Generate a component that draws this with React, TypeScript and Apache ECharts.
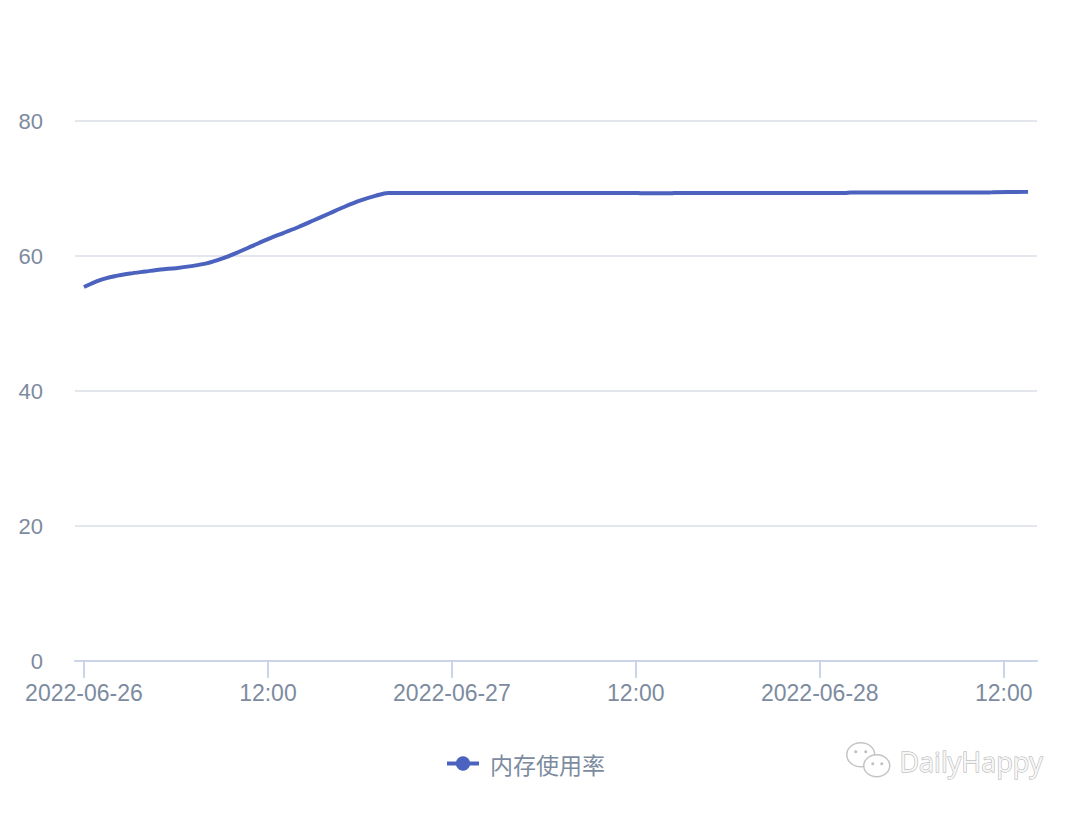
import React, { useEffect, useRef } from "react";
import * as echarts from "echarts";

const seriesName = "内存使用率";
const times: string[] = [
  "2022-06-26 00:00", "2022-06-26 01:00", "2022-06-26 02:00", "2022-06-26 03:00",
  "2022-06-26 04:00", "2022-06-26 05:00", "2022-06-26 06:00", "2022-06-26 07:00",
  "2022-06-26 08:00", "2022-06-26 09:00", "2022-06-26 10:00", "2022-06-26 11:00",
  "2022-06-26 12:00", "2022-06-26 13:00", "2022-06-26 14:00", "2022-06-26 15:00",
  "2022-06-26 16:00", "2022-06-26 17:00", "2022-06-26 18:00", "2022-06-26 19:00",
  "2022-06-26 19:50", "2022-06-27 00:00", "2022-06-27 06:00", "2022-06-27 12:00",
  "2022-06-27 12:20", "2022-06-27 14:20", "2022-06-27 14:40", "2022-06-27 20:00",
  "2022-06-28 01:40", "2022-06-28 02:00", "2022-06-28 08:00", "2022-06-28 11:00",
  "2022-06-28 11:20", "2022-06-28 13:35",
];
const values: number[] = [
  55.4, 56.4, 57.0, 57.4,
  57.7, 58.0, 58.2, 58.5,
  58.9, 59.6, 60.5, 61.5,
  62.5, 63.4, 64.3, 65.3,
  66.3, 67.3, 68.2, 68.9,
  69.35, 69.35, 69.35, 69.35,
  69.3, 69.3, 69.35, 69.35,
  69.35, 69.4, 69.4, 69.4,
  69.45, 69.5,
];
const axisMin = "2022-06-25 23:25";
const axisMax = "2022-06-28 14:10";
const yMax = 80;
const yInterval = 20;

const labelColor = "#7D8BA0";
const lineColor = "#4B62BF";

function parseTime(s: string): number {
  const [d, t] = s.split(" ");
  const [y, m, day] = d.split("-").map(Number);
  const [hh, mm] = t.split(":").map(Number);
  return new Date(y, m - 1, day, hh, mm).getTime();
}

const pad = (n: number) => (n < 10 ? "0" + n : "" + n);

export default function App() {
  const ref = useRef<HTMLDivElement>(null);
  useEffect(() => {
    if (!ref.current) return;
    const chart = echarts.init(ref.current, undefined, { renderer: "svg" });
    const data = times.map((t, i) => [parseTime(t), values[i]]);
    chart.setOption({
      animation: false,
      grid: { left: 75, right: 43, top: 121, bottom: 152 },
      legend: {
        bottom: 33,
        left: 440,
        itemWidth: 32,
        itemHeight: 18,
        lineStyle: { width: 4 },
        textStyle: {
          color: labelColor,
          fontSize: 23,
          fontFamily: "'Noto Sans CJK SC', sans-serif",
          padding: [0, 0, 0, 6],
        },
        data: [seriesName],
      },
      xAxis: {
        type: "time",
        min: parseTime(axisMin),
        max: parseTime(axisMax),
        splitNumber: 5,
        axisLine: { lineStyle: { color: "#CBD4E8", width: 2 } },
        axisTick: { show: true, length: 17, lineStyle: { color: "#CBD4E8", width: 2 } },
        splitLine: { show: false },
        axisLabel: {
          color: labelColor,
          fontSize: 23,
          fontFamily: "'Liberation Sans', sans-serif",
          margin: 20,
          hideOverlap: false,
          formatter: (v: number) => {
            const d = new Date(v);
            if (d.getHours() === 0 && d.getMinutes() === 0) {
              return d.getFullYear() + "-" + pad(d.getMonth() + 1) + "-" + pad(d.getDate());
            }
            return pad(d.getHours()) + ":" + pad(d.getMinutes());
          },
        },
      },
      yAxis: {
        type: "value",
        min: 0,
        max: yMax,
        interval: yInterval,
        axisLine: { show: false },
        axisTick: { show: false },
        splitLine: { lineStyle: { color: "#E3E6EC", width: 2 } },
        axisLabel: {
          color: labelColor,
          fontSize: 22,
          fontFamily: "'Liberation Sans', sans-serif",
          margin: 32,
        },
      },
      series: [
        {
          name: seriesName,
          type: "line",
          smooth: 0.3,
          showSymbol: false,
          symbol: "circle",
          symbolSize: 15,
          itemStyle: { color: lineColor },
          lineStyle: { color: lineColor, width: 4 },
          data,
        },
      ],
      graphic: [
        {
          type: "group",
          left: 846,
          top: 742,
          children: [
            { type: "ellipse", shape: { cx: 15, cy: 14, rx: 14, ry: 12 }, style: { fill: "#fff", stroke: "#C4C4C4", lineWidth: 1.5 } },
            { type: "circle", shape: { cx: 10, cy: 11, r: 1.5 }, style: { fill: "#BDBDBD" } },
            { type: "circle", shape: { cx: 20, cy: 11, r: 1.5 }, style: { fill: "#BDBDBD" } },
            { type: "ellipse", shape: { cx: 31, cy: 25, rx: 13, ry: 11 }, style: { fill: "#fff", stroke: "#C4C4C4", lineWidth: 1.5 } },
            { type: "circle", shape: { cx: 27, cy: 23, r: 1.5 }, style: { fill: "#BDBDBD" } },
            { type: "circle", shape: { cx: 36, cy: 23, r: 1.5 }, style: { fill: "#BDBDBD" } },
          ],
        },
        {
          type: "text",
          left: 899,
          top: 747,
          style: {
            text: "DailyHappy",
            fontSize: 27,
            fontFamily: "'Open Sans', sans-serif",
            fill: "#F6F6F6",
            stroke: "#ABABAB",
            lineWidth: 1,
            shadowColor: "rgba(0,0,0,0.3)",
            shadowBlur: 2,
            shadowOffsetY: 1,
          },
        },
      ],
    });
    return () => chart.dispose();
  }, []);
  return (
    <div
      ref={ref}
      style={{ position: "fixed", left: 0, top: 0, width: 1080, height: 813, background: "#fff" }}
    />
  );
}
